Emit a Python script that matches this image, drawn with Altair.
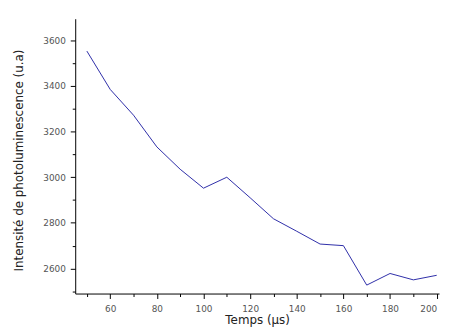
import altair as alt
import pandas as pd

temps = [50, 60, 70, 80, 90, 100, 110, 120, 130, 140, 150, 160, 170, 180, 190, 200]
intensite = [3553, 3385, 3272, 3133, 3035, 2952, 3000, 2910, 2818, 2763, 2707, 2700, 2527, 2578, 2550, 2570]

x_major = [60, 80, 100, 120, 140, 160, 180, 200]
x_minor = [50, 70, 90, 110, 130, 150, 170, 190]
y_major = [2600, 2800, 3000, 3200, 3400, 3600]
y_minor = [2500, 2700, 2900, 3100, 3300, 3500]

df = pd.DataFrame({"t": temps, "i": intensite})

font = "DejaVu Sans"
xscale = alt.Scale(domain=[45, 201], nice=False, zero=False)
yscale = alt.Scale(domain=[2490, 3695], nice=False, zero=False)

main = alt.Chart(df).mark_line(color="#2e2ea8", strokeWidth=1).encode(
    x=alt.X("t:Q", scale=xscale,
            axis=alt.Axis(values=x_major, format="d", title="Temps (µs)", grid=False, orient="bottom",
                          tickSize=5, labelFontSize=9, labelFont=font, labelColor="#555",
                          labelFlush=6,
                          titleFont=font, titleFontSize=12, titleFontWeight="normal",
                          titleColor="#222", titleY=30, titleBaseline="alphabetic",
                          domainColor="#000", tickColor="#000", labelPadding=6)),
    y=alt.Y("i:Q", scale=yscale,
            axis=alt.Axis(values=y_major, format="d", title="Intensité de photoluminescence (u.a)",
                          grid=False, orient="left", tickSize=5, labelFontSize=9,
                          labelFont=font, labelColor="#555", titleFont=font,
                          titleFontSize=12, titleFontWeight="normal", titleColor="#222",
                          titleX=-57, titleY=143, titleBaseline="middle", titleAngle=270,
                          domainColor="#000", tickColor="#000", labelPadding=5)),
)

minor = alt.Chart(df).mark_line(opacity=0).encode(
    x=alt.X("t:Q", scale=xscale,
            axis=alt.Axis(values=x_minor, title=None, labels=False, domain=False,
                          grid=False, orient="bottom", tickSize=3, tickColor="#000")),
    y=alt.Y("i:Q", scale=yscale,
            axis=alt.Axis(values=y_minor, title=None, labels=False, domain=False,
                          grid=False, orient="left", tickSize=3, tickColor="#000")),
)

chart = alt.layer(main, minor).resolve_axis(x="independent", y="independent").properties(
    width=368, height=278,
    background="white",
    autosize=alt.AutoSizeParams(type="none"),
    padding={"left": 68, "top": 9, "right": 2, "bottom": 32},
).configure_view(stroke=None)

chart.save("out.html", embed_options={"renderer": "svg", "actions": False})
